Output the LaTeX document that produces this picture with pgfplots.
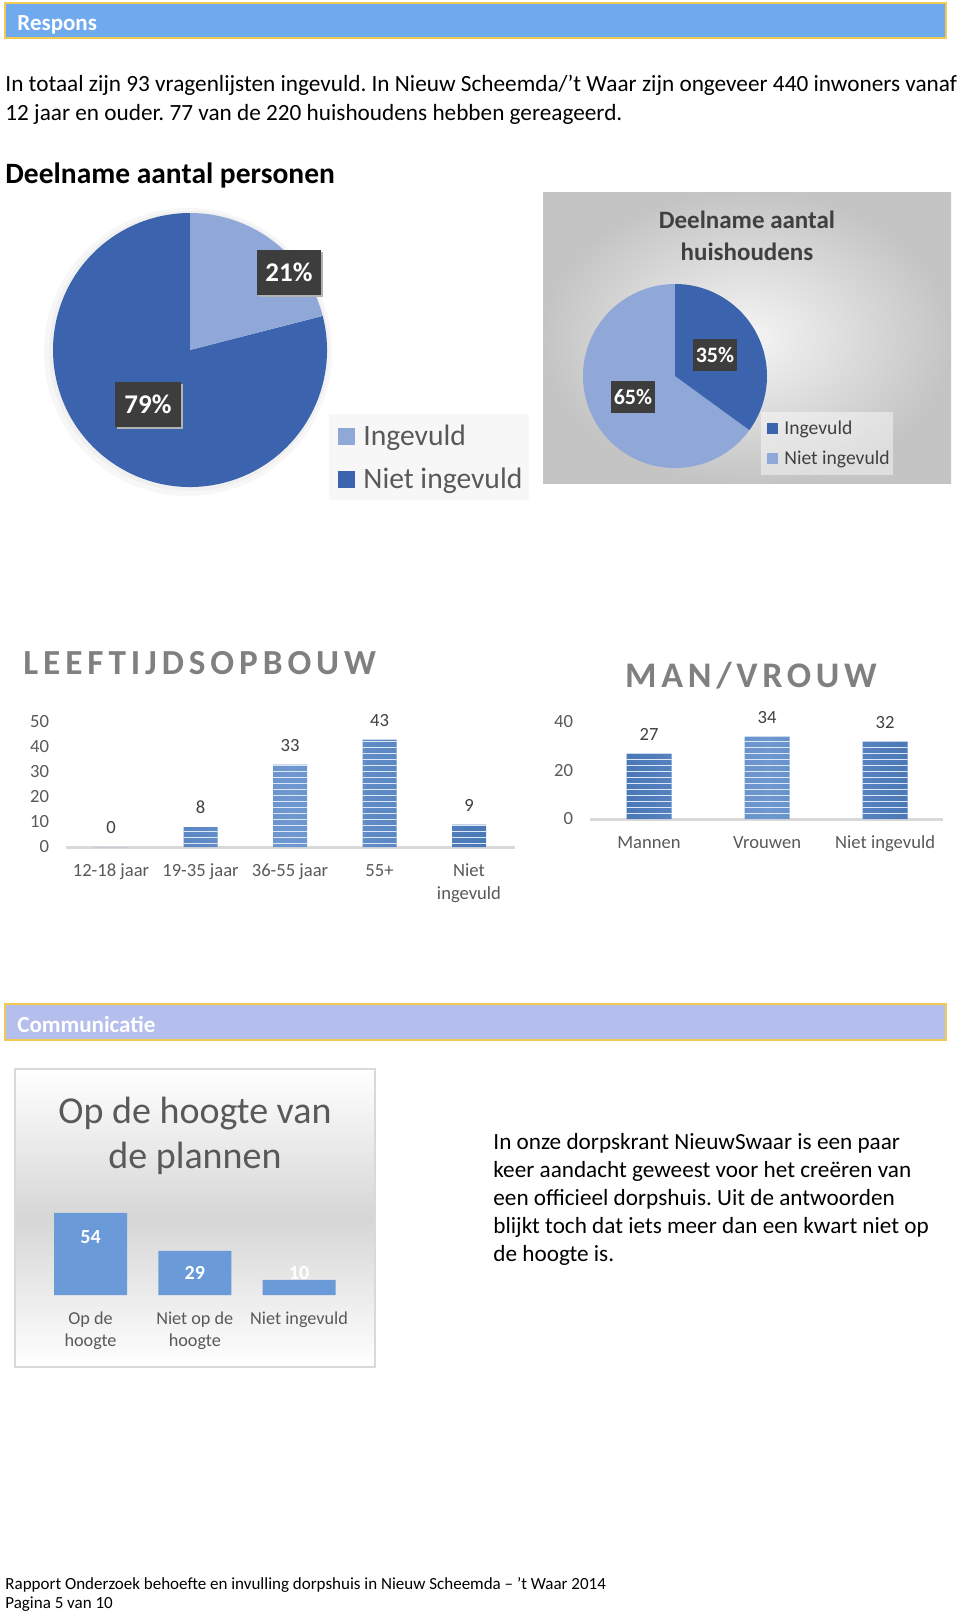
\documentclass[border=0pt]{standalone}
\usepackage{pgfplots}
\pgfplotsset{compat=1.18}
\usepackage{pgfplotstable}
\usepackage{fontspec}
\setmainfont{Carlito}
\usetikzlibrary{patterns}
\frenchspacing

\definecolor{hdrblue}{HTML}{6FA9EE}
\definecolor{hdrgold}{HTML}{F2CA52}
\definecolor{hdrlav}{HTML}{B5BFEE}
\definecolor{pielight}{HTML}{8FA8D8}
\definecolor{piedark}{HTML}{3C64AE}
\definecolor{txtgray}{HTML}{595959}
\definecolor{titlegray}{HTML}{808080}
\definecolor{bardark}{HTML}{4A78B6}
\definecolor{barmid}{HTML}{6F98D0}
\definecolor{barlight}{HTML}{DCE8F7}
\definecolor{commblue}{HTML}{6A9AD8}
\definecolor{boxdark}{HTML}{3D3D3D}
\definecolor{axgray}{HTML}{D9D9D9}
\definecolor{darktxt}{HTML}{404040}

\pgfplotstableread{
x v
0 0
1 8
2 33
3 43
4 9
}\leeftijd
\pgfplotstableread{
x v
0 27
1 34
2 32
}\geslacht
\pgfplotstableread{
x v
0 54
1 29
2 10
}\hoogte

\pgfplotsset{
  shadedbar/.style={draw=none, left color=bardark, right color=bardark, middle color=barmid},
  stripebar/.style={draw=none, pattern=horizontal lines, pattern color=barlight},
  barax/.style={anchor=south west, scale only axis,
    axis x line*=bottom, axis y line*=left,
    x axis line style={axgray, line width=1.5pt, -},
    y axis line style={draw=none},
    major tick length=0pt,
    tick label style={text=txtgray, font=\fontsize{9.3}{11.5}\selectfont},
    xticklabel style={align=center, yshift=-5pt},
    yticklabel style={xshift=-5pt},
    /pgf/number format/assume math mode=true,
    clip=false},
  vallabels/.style={only marks, mark=none, nodes near coords,
    nodes near coords style={anchor=south, yshift=3pt, text=darktxt, font=\fontsize{9.3}{9.3}\selectfont},
    /pgf/number format/assume math mode=true}
}

\begin{document}
\begin{tikzpicture}[x=0.5pt,y=-0.5pt]
\path[use as bounding box] (0,0) rectangle (960,1612);
\fill[white] (0,0) rectangle (960,1612);

% ---------- Respons header
\fill[hdrblue] (5,3) rectangle (946,38);
\draw[hdrgold, line width=1.2pt] (5,3) rectangle (946,38);
\node[anchor=base west, inner sep=0pt, text=white, font=\bfseries\fontsize{11.5}{11.5}\selectfont] at (17,30) {Respons};

% ---------- paragraph
\node[anchor=base west, inner sep=0pt, font=\fontsize{11.62}{11.62}\selectfont] at (5,91.4) {In totaal zijn 93 vragenlijsten ingevuld. In Nieuw Scheemda/’t Waar zijn ongeveer 440 inwoners vanaf};
\node[anchor=base west, inner sep=0pt, font=\fontsize{11.62}{11.62}\selectfont] at (5,120.4) {12 jaar en ouder. 77 van de 220 huishoudens hebben gereageerd.};
\node[anchor=base west, inner sep=0pt, font=\bfseries\fontsize{14.75}{14.75}\selectfont] at (5,183) {Deelname aantal personen};

% ---------- Pie 1
\fill[black!3] (188,352) circle[radius=72pt];
\fill[black!6] (189,351) circle[radius=70pt];
\begin{axis}[at={(95pt,-175pt)}, anchor=center, scale only axis, width=137pt, height=137pt,
  xmin=-1, xmax=1, ymin=-1, ymax=1, hide axis, clip=false]
\addplot[draw=none] coordinates {(0,0)};
\fill[piedark] (axis cs:0,0) -- (axis cs:{cos(14.4)},{sin(14.4)}) arc[start angle=14.4, end angle=-270, radius=68.5pt] -- cycle;
\fill[pielight] (axis cs:0,0) -- (axis cs:0,1) arc[start angle=90, end angle=14.4, radius=68.5pt] -- cycle;
\end{axis}
\fill[black!30] (259,252) rectangle (323,297);
\node[fill=boxdark, text=white, font=\bfseries\fontsize{13.5}{13.5}\selectfont, minimum width=32pt, minimum height=22.5pt, inner sep=0pt] at (289,272) {21\%};
\fill[black!30] (117,384) rectangle (183,429);
\node[fill=boxdark, text=white, font=\bfseries\fontsize{13.5}{13.5}\selectfont, minimum width=33pt, minimum height=22.5pt, inner sep=0pt] at (148,404) {79\%};
% legend 1
\fill[black!3] (329,414) rectangle (529,500);
\fill[pielight] (338,428) rectangle (355,445);
\fill[piedark] (338,471) rectangle (355,488);
\node[anchor=base west, inner sep=0pt, text=txtgray, font=\fontsize{14.8}{14.8}\selectfont] at (363,445) {Ingevuld};
\node[anchor=base west, inner sep=0pt, text=txtgray, font=\fontsize{14.8}{14.8}\selectfont] at (363,488) {Niet ingevuld};

% ---------- Pie 2 (picture)
\shade[inner color=black!4, outer color=black!23] (543,192) rectangle (951,483);
\node[anchor=base, inner sep=0pt, text=darktxt, font=\bfseries\fontsize{12.5}{12.5}\selectfont] at (747,228) {Deelname aantal};
\node[anchor=base, inner sep=0pt, text=darktxt, font=\bfseries\fontsize{12.5}{12.5}\selectfont] at (747,260) {huishoudens};
\begin{axis}[at={(337.5pt,-188pt)}, anchor=center, scale only axis, width=92pt, height=92pt,
  xmin=-1, xmax=1, ymin=-1, ymax=1, hide axis, clip=false]
\addplot[draw=none] coordinates {(0,0)};
\fill[pielight] (axis cs:0,0) -- (axis cs:{cos(-36)},{sin(-36)}) arc[start angle=-36, end angle=-270, radius=46pt] -- cycle;
\fill[piedark] (axis cs:0,0) -- (axis cs:0,1) arc[start angle=90, end angle=-36, radius=46pt] -- cycle;
\end{axis}
\node[fill=boxdark, text=white, font=\bfseries\fontsize{11}{11}\selectfont, minimum width=22pt, minimum height=16pt, inner sep=0pt] at (715,355) {35\%};
\node[fill=boxdark, text=white, font=\bfseries\fontsize{11}{11}\selectfont, minimum width=22pt, minimum height=16pt, inner sep=0pt] at (633,397) {65\%};
\fill[white, fill opacity=0.45] (761,412) rectangle (893,475);
\fill[piedark] (767,423) rectangle (778,434);
\fill[pielight] (767,453) rectangle (778,464);
\node[anchor=base west, inner sep=0pt, text=darktxt, font=\fontsize{9.8}{9.8}\selectfont] at (784,434) {Ingevuld};
\node[anchor=base west, inner sep=0pt, text=darktxt, font=\fontsize{9.8}{9.8}\selectfont] at (784,464) {Niet ingevuld};

% ---------- LEEFTIJDSOPBOUW
\node[anchor=base west, inner sep=0pt, text=titlegray, font=\bfseries\fontsize{17.6}{17.6}\selectfont\addfontfeature{LetterSpace=14}] at (23,674) {LEEFTIJDSOPBOUW};
\begin{axis}[barax, at={(33pt,-423.5pt)}, width=224.5pt, height=62.5pt,
  xmin=-0.503, xmax=4.514, ymin=0, ymax=50,
  ytick={0,10,20,30,40,50}, xtick={0,1,2,3,4},
  xticklabels={12-18 jaar,19-35 jaar,36-55 jaar,55+,{Niet\\ingevuld}}]
\addplot[ybar, bar width=17pt, shadedbar] table[x=x,y=v]{\leeftijd};
\addplot[ybar, bar width=17pt, stripebar] table[x=x,y=v]{\leeftijd};
\addplot[vallabels] table[x=x,y=v]{\leeftijd};
\end{axis}

% ---------- MAN/VROUW
\node[anchor=base, inner sep=0pt, text=titlegray, font=\bfseries\fontsize{18}{18}\selectfont\addfontfeature{LetterSpace=13}] at (751,687) {MAN/VROUW};
\begin{axis}[barax, at={(295pt,-409.5pt)}, width=176.5pt, height=48.5pt,
  xmin=-0.5, xmax=2.49, ymin=0, ymax=40,
  ytick={0,20,40}, xtick={0,1,2},
  xticklabels={Mannen,Vrouwen,Niet ingevuld}]
\addplot[ybar, bar width=22.5pt, shadedbar] table[x=x,y=v]{\geslacht};
\addplot[ybar, bar width=22.5pt, stripebar] table[x=x,y=v]{\geslacht};
\addplot[vallabels] table[x=x,y=v]{\geslacht};
\end{axis}

% ---------- Communicatie header
\fill[hdrlav] (5,1004) rectangle (946,1040);
\draw[hdrgold, line width=1.2pt] (5,1004) rectangle (946,1040);
\node[anchor=base west, inner sep=0pt, text=white, font=\bfseries\fontsize{11.5}{11.5}\selectfont] at (17,1032) {Communicatie};

% ---------- Op de hoogte chart
\shade[top color=white, bottom color=white, middle color=black!16] (15,1069) rectangle (375,1367);
\draw[black!15, line width=0.8pt] (15,1069) rectangle (375,1367);
\node[anchor=base, inner sep=0pt, text=txtgray, font=\fontsize{19}{19}\selectfont] at (195,1123) {Op de hoogte van};
\node[anchor=base, inner sep=0pt, text=txtgray, font=\fontsize{19}{19}\selectfont] at (195,1168) {de plannen};
\begin{axis}[anchor=south west, scale only axis, at={(19.2pt,-647.5pt)}, width=156.4pt, height=45.6pt,
  xmin=-0.5, xmax=2.5, ymin=0, ymax=60,
  axis line style={draw=none}, major tick length=0pt, ytick=\empty,
  xtick={0,1,2}, xticklabels={{Op de\\hoogte},{Niet op de\\hoogte},{Niet ingevuld}},
  xticklabel style={align=center, yshift=-5pt, text=txtgray, font=\fontsize{9.1}{11}\selectfont},
  clip=false]
\addplot[ybar, bar width=36.5pt, draw=none, fill=commblue] table[x=x,y=v]{\hoogte};
\node[text=white, font=\bfseries\fontsize{10}{10}\selectfont] at (axis cs:0,54) [yshift=-12pt] {54};
\node[text=white, font=\bfseries\fontsize{10}{10}\selectfont] at (axis cs:1,29) [yshift=-11pt] {29};
\node[text=white, font=\bfseries\fontsize{10}{10}\selectfont] at (axis cs:2,10) [yshift=3.5pt] {10};
\end{axis}

% ---------- right paragraph
\node[anchor=base west, inner sep=0pt, font=\fontsize{11.6}{11.6}\selectfont] at (493,1149.4) {In onze dorpskrant NieuwSwaar is een paar};
\node[anchor=base west, inner sep=0pt, font=\fontsize{11.6}{11.6}\selectfont] at (493,1177.4) {keer aandacht geweest voor het creëren van};
\node[anchor=base west, inner sep=0pt, font=\fontsize{11.6}{11.6}\selectfont] at (493,1205.4) {een officieel dorpshuis. Uit de antwoorden};
\node[anchor=base west, inner sep=0pt, font=\fontsize{11.6}{11.6}\selectfont] at (493,1233.4) {blijkt toch dat iets meer dan een kwart niet op};
\node[anchor=base west, inner sep=0pt, font=\fontsize{11.6}{11.6}\selectfont] at (493,1261.4) {de hoogte is.};

% ---------- footer
\node[anchor=base west, inner sep=0pt, font=\fontsize{8.5}{8.5}\selectfont] at (5,1589) {Rapport Onderzoek behoefte en invulling dorpshuis in Nieuw Scheemda – ’t Waar 2014};
\node[anchor=base west, inner sep=0pt, font=\fontsize{8.5}{8.5}\selectfont] at (5,1608) {Pagina 5 van 10};
\end{tikzpicture}
\end{document}
